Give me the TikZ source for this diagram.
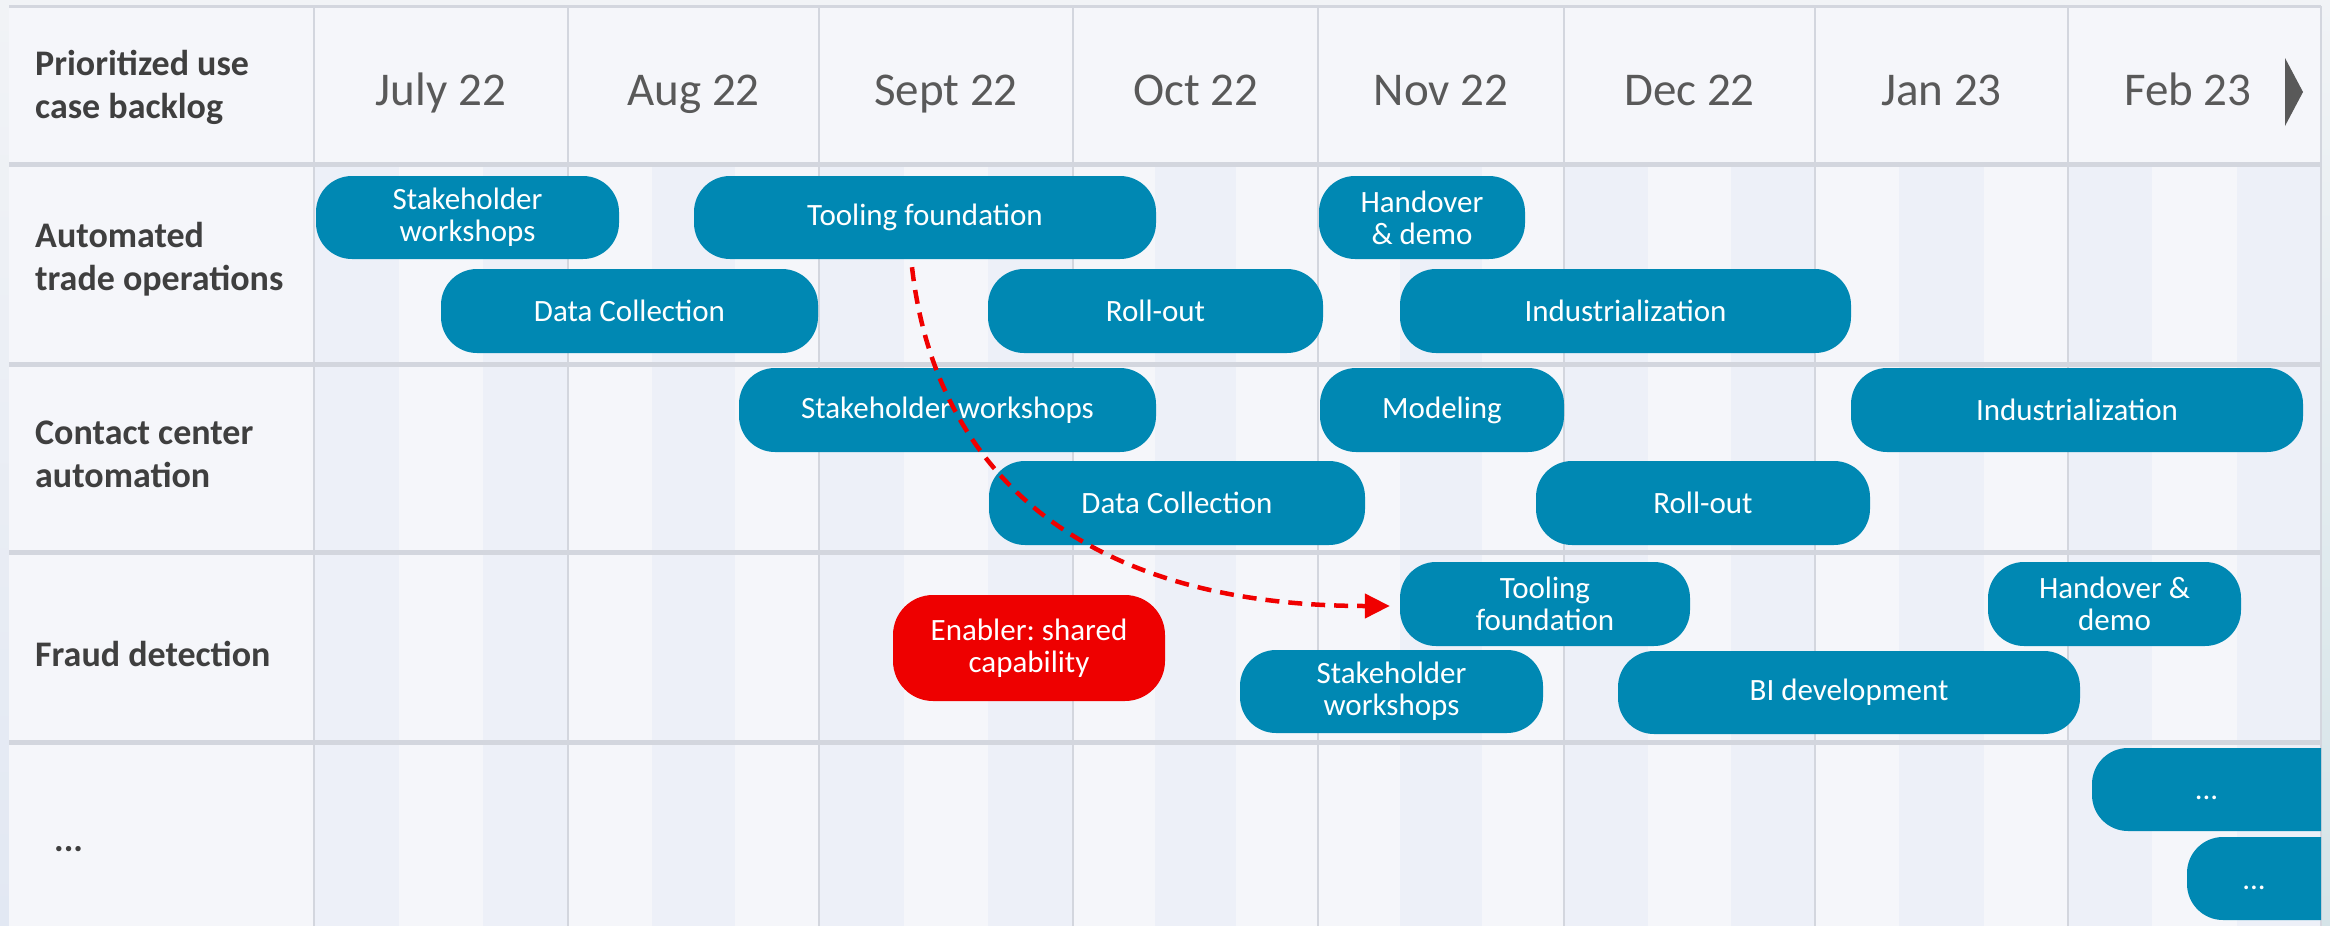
\documentclass[tikz,border=0pt]{standalone}
\usepackage{fontspec}
\setmainfont{Carlito}
\usetikzlibrary{arrows.meta}
\frenchspacing
\definecolor{barblue}{HTML}{0088B3}
\definecolor{enred}{HTML}{EE0000}
\definecolor{arrred}{HTML}{F00000}
\definecolor{tablebg}{HTML}{F5F6FA}
\definecolor{stripe}{HTML}{EDF0F8}
\definecolor{gridline}{HTML}{D3D6DE}
\definecolor{monthgray}{HTML}{595959}
\definecolor{labelgray}{HTML}{3F3F3F}
\definecolor{outerbg}{HTML}{F1F3F6}
\definecolor{leftedge}{HTML}{E2E8F3}
\definecolor{rightedge}{HTML}{D5E4E8}
\begin{document}
\begin{tikzpicture}[x=1pt,y=-1pt,
  bar/.style={fill=barblue, text=white, rounded corners=36pt, inner sep=0pt, align=center,
    font=\fontsize{31}{32}\selectfont},
  enabler/.style={bar, fill=enred, rounded corners=40pt},
  month/.style={anchor=base, text=monthgray, font=\fontsize{47}{50}\selectfont, inner sep=0pt},
  rowlabel/.style={anchor=west, text=labelgray, align=left, inner sep=0pt,
    font=\bfseries\fontsize{36}{43}\selectfont},
  bartext/.style={anchor=base, text=white, inner sep=0pt, font=\fontsize{31}{32}\selectfont},
  hline/.style={draw=gridline, line width=5pt},
  vline/.style={draw=gridline, line width=2.5pt},
  link/.style={draw=arrred, line width=4.5pt, dash pattern=on 14pt off 9pt,
    -{Triangle[length=25pt,width=24pt]}}
]
\useasboundingbox (0,0) rectangle (2330,926);
% outer background
\fill[outerbg] (0,0) rectangle (2330,926);
\shade[top color=outerbg, bottom color=leftedge] (0,0) rectangle (9,926);
\shade[top color=outerbg, bottom color=rightedge] (2321,0) rectangle (2330,926);
% table
\fill[tablebg] (9,6) rectangle (2321,926);
% stripes
\foreach \a/\b/\d in {314/568/1, 568/819/0, 819/1073/1, 1073/1318/0, 1318/1564/0, 1564/1815/1, 1815/2068/0, 2068/2321/1}{
  \pgfmathsetmacro\wa{\a+(\b-\a)/3}
  \pgfmathsetmacro\wb{\a+2*(\b-\a)/3}
  \ifnum\d=1
    \fill[stripe] (\a,164) rectangle (\wa,926);
    \fill[stripe] (\wb,164) rectangle (\b,926);
  \else
    \fill[stripe] (\wa,164) rectangle (\wb,926);
  \fi
}
% grid
\foreach \x in {314,568,819,1073,1318,1564,1815,2068,2321}{
  \draw[vline] (\x,6) -- (\x,926);
}
\draw[draw=gridline, line width=3pt] (9,6) -- (2321,6);
\foreach \y in {164,364,552,742}{
  \draw[hline] (9,\y) -- (2321,\y);
}
% header
\node[rowlabel] (l0) at (35,87) {Prioritized use\\case backlog};
\node[month] (m1) at (441,105) {July 22};
\node[month] (m2) at (693.5,105) {Aug 22};
\node[month] (m3) at (946,105) {Sept 22};
\node[month] (m4) at (1195.5,105) {Oct 22};
\node[month] (m5) at (1441,105) {Nov 22};
\node[month] (m6) at (1689.5,105) {Dec 22};
\node[month] (m7) at (1941.5,105) {Jan 23};
\node[month] (m8) at (2188,105) {Feb 23};
\fill[monthgray] (2285,58) -- (2303,92) -- (2285,126) -- cycle;
% row labels
\node[rowlabel] (l1) at (35,259) {Automated\\trade operations};
\node[rowlabel] (l2) at (35,454) {Contact center\\automation};
\node[rowlabel] (l3) at (35,654) {Fraud detection};
\node[rowlabel, anchor=base west] (l4) at (54,851) {...};
% row 1
\node[bar, minimum width=303, minimum height=83] (sw1) at (467.5,217.5) {Stakeholder\\workshops};
\node[bar, minimum width=462, minimum height=83] (tf1) at (925,217.5) {Tooling foundation};
\node[bar, minimum width=206, minimum height=83] (hd1) at (1422,217.5) {Handover\\\& demo};
\node[bar, minimum width=377, minimum height=84] (dc1) at (629.5,311) {Data Collection};
\node[bar, minimum width=335, minimum height=84] (ro1) at (1155.5,311) {Roll-out};
\node[bar, minimum width=451, minimum height=84] (in1) at (1625.5,311) {Industrialization};
% row 2
\node[bar, minimum width=417, minimum height=84] (sw2) at (947.5,410) {Stakeholder workshops};
\node[bar, minimum width=244, minimum height=84] (mo2) at (1442,410) {Modeling};
\node[bar, minimum width=452, minimum height=84] (in2) at (2077,410) {Industrialization};
\node[bar, minimum width=376, minimum height=84] (dc2) at (1177,503) {Data Collection};
\node[bar, minimum width=334, minimum height=84] (ro2) at (1703,503) {Roll-out};
% row 3
\node[bar, minimum width=290, minimum height=84] (tf3) at (1545,604) {Tooling\\foundation};
\node[bar, minimum width=253, minimum height=84] (hd3) at (2114.5,604) {Handover \&\\demo};
\node[enabler, minimum width=272, minimum height=106] (en3) at (1029,648) {Enabler: shared\\capability};
\node[bar, minimum width=303, minimum height=83] (sw3) at (1391.5,691.5) {Stakeholder\\workshops};
\node[bar, minimum width=462, minimum height=83] (bi3) at (1849,692.5) {BI development};
% row 4 (boxes cut by the table edge)
\begin{scope}
  \clip (9,6) rectangle (2321,926);
  \fill[barblue, rounded corners=36pt] (2092,748) rectangle (2400,831);
  \fill[barblue, rounded corners=36pt] (2187,837) rectangle (2400,920);
\end{scope}
\node[bartext] (more1) at (2206.5,799) {...};
\node[bartext] (more2) at (2254,889) {...};
% dependency arrow
\draw[link] ([xshift=-13pt,yshift=-8pt]tf1.south) .. controls +(23,203) and +(-310,0) .. ([xshift=-10pt,yshift=-2pt]tf3.west);
\end{tikzpicture}
\end{document}
